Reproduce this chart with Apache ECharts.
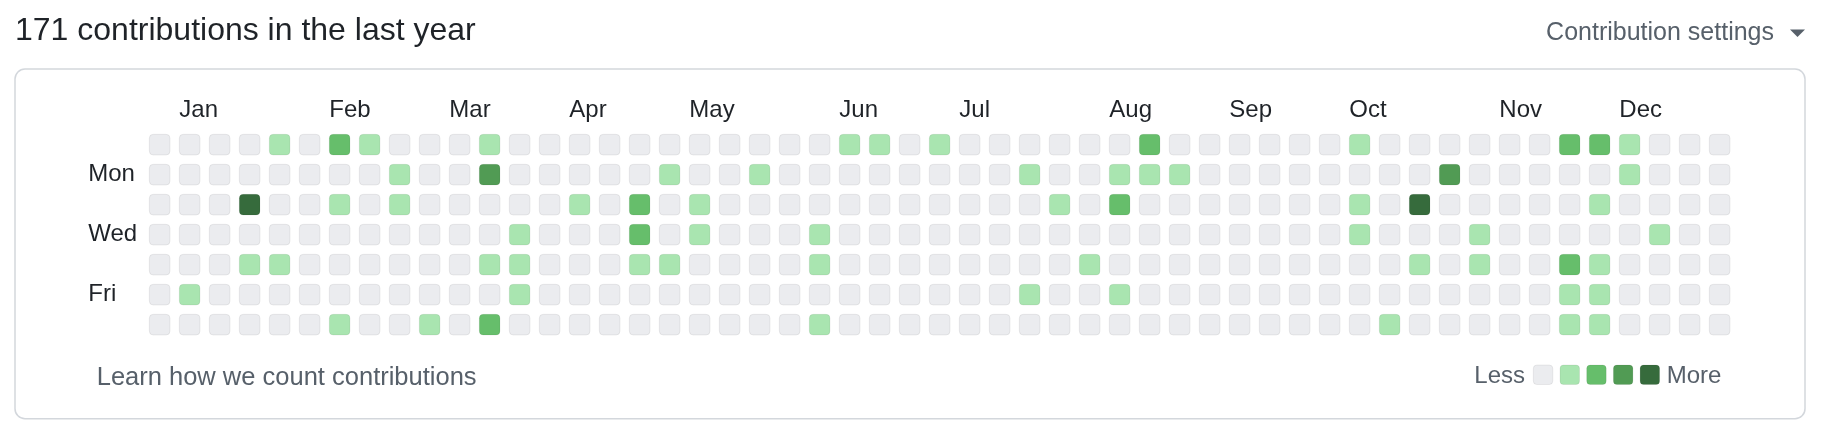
<!DOCTYPE html>
<html>
<head>
<meta charset="utf-8">
<script src="https://cdn.jsdelivr.net/npm/echarts@6/dist/echarts.min.js"></script>
<style>
  html, body { margin: 0; padding: 0; background: #ffffff; }
  #chart { width: 1834px; height: 436px; }
</style>
</head>
<body>
<div id="chart"></div>
<script>
// ---------- data ----------
const titleText = '171 contributions in the last year';
const weekdays = ['Sun', 'Mon', 'Tue', 'Wed', 'Thu', 'Fri', 'Sat'];
const dayLabels = ['', 'Mon', '', 'Wed', '', 'Fri', ''];
const monthLabels = ['Jan', 'Feb', 'Mar', 'Apr', 'May', 'Jun', 'Jul', 'Aug', 'Sep', 'Oct', 'Nov', 'Dec'];
const monthStartWeeks = [1, 6, 10, 14, 18, 23, 27, 32, 36, 40, 45, 49];
const levelColors = ['#ebecef', '#a9e5b0', '#66be6b', '#519b54', '#366b3c'];

// contribution level (0-4) per week, one array per weekday row
const sun = [0,0,0,0,1,0,2,1,0,0, 0,1,0,0,0,0,0,0,0,0, 0,0,0,1,1,0,1,0,0,0, 0,0,0,2,0,0,0,0,0,0, 1,0,0,0,0,0,0,2,2,1, 0,0,0];
const mon = [0,0,0,0,0,0,0,0,1,0, 0,3,0,0,0,0,0,1,0,0, 1,0,0,0,0,0,0,0,0,1, 0,0,1,1,1,0,0,0,0,0, 0,0,0,3,0,0,0,0,0,1, 0,0,0];
const tue = [0,0,0,4,0,0,1,0,1,0, 0,0,0,0,1,0,2,0,1,0, 0,0,0,0,0,0,0,0,0,0, 1,0,2,0,0,0,0,0,0,0, 1,0,4,0,0,0,0,0,1,0, 0,0,0];
const wed = [0,0,0,0,0,0,0,0,0,0, 0,0,1,0,0,0,2,0,1,0, 0,0,1,0,0,0,0,0,0,0, 0,0,0,0,0,0,0,0,0,0, 1,0,0,0,1,0,0,0,0,0, 1,0,0];
const thu = [0,0,0,1,1,0,0,0,0,0, 0,1,1,0,0,0,1,1,0,0, 0,0,1,0,0,0,0,0,0,0, 0,1,0,0,0,0,0,0,0,0, 0,0,1,0,1,0,0,2,1,0, 0,0,0];
const fri = [0,1,0,0,0,0,0,0,0,0, 0,0,1,0,0,0,0,0,0,0, 0,0,0,0,0,0,0,0,0,1, 0,0,1,0,0,0,0,0,0,0, 0,0,0,0,0,0,0,1,1,0, 0,0,0];
const sat = [0,0,0,0,0,0,1,0,0,1, 0,2,0,0,0,0,0,0,0,0, 0,0,1,0,0,0,0,0,0,0, 0,0,0,0,0,0,0,0,0,0, 0,1,0,0,0,0,0,1,1,0, 0,0,0];

// ---------- build ----------
const rows = [sun, mon, tue, wed, thu, fri, sat];
const weeks = sun.map((_, i) => String(i));
const cells = [];
rows.forEach((row, d) => row.forEach((lvl, w) => cells.push([w, d, lvl])));

const FONT = '"Liberation Sans", Arial, Helvetica, sans-serif';
const DARK = '#1f2328';
const MUTED = '#57606a';

const chart = echarts.init(document.getElementById('chart'), null, { renderer: 'canvas' });

const legendStartX = 1533.3, legendPitch = 26.7, legendSize = 19.5, legendY = 365;
const legendGraphics = levelColors.map((c, i) => ({
  type: 'rect',
  shape: { x: legendStartX + i * legendPitch, y: legendY, width: legendSize, height: legendSize, r: 3.5 },
  style: { fill: c, stroke: 'rgba(27,31,35,0.07)', lineWidth: 1 }
}));

chart.setOption({
  animation: false,
  backgroundColor: '#ffffff',
  grid: { left: 144.65, top: 129.65, width: 1590, height: 210, containLabel: false },
  xAxis: [
    {
      type: 'category', data: weeks, boundaryGap: true, gridIndex: 0,
      axisLine: { show: false }, axisTick: { show: false }, axisLabel: { show: false }, splitLine: { show: false }
    },
    {
      type: 'value', min: 0, max: weeks.length, interval: 1, position: 'top', gridIndex: 0,
      axisLine: { show: false }, axisTick: { show: false }, splitLine: { show: false },
      axisLabel: {
        show: true, showMinLabel: true, showMaxLabel: true,
        formatter: v => { const k = monthStartWeeks.indexOf(v); return k >= 0 ? monthLabels[k] : ''; },
        align: 'left', verticalAlign: 'middle', margin: 19.5,
        padding: [0, 0, 0, 4.7],
        fontSize: 24, color: DARK, fontFamily: FONT
      }
    }
  ],
  yAxis: {
    type: 'category', data: weekdays, inverse: true,
    axisLine: { show: false }, axisTick: { show: false }, splitLine: { show: false },
    axisLabel: {
      interval: 0,
      formatter: (v, i) => dayLabels[i],
      align: 'left', verticalAlign: 'middle', margin: 56.4,
      fontSize: 24, color: DARK, fontFamily: FONT
    }
  },
  series: [{
    type: 'custom',
    xAxisIndex: 0, yAxisIndex: 0,
    data: cells,
    renderItem: function (params, api) {
      const p = api.coord([api.value(0), api.value(1)]);
      const band = api.size([1, 1]);
      const s = band[0] * 0.69;
      return {
        type: 'rect',
        shape: { x: p[0] - s / 2, y: p[1] - s / 2, width: s, height: s, r: 4 },
        style: { fill: levelColors[api.value(2)], stroke: 'rgba(27,31,35,0.07)', lineWidth: 1 }
      };
    }
  }],
  graphic: [
    {
      type: 'rect', z: -1,
      shape: { x: 15, y: 69, width: 1790, height: 349.7, r: 10 },
      style: { fill: 'none', stroke: '#d3d7dc', lineWidth: 1.5 }
    },
    {
      type: 'text', x: 15, y: 31.5,
      style: { text: titleText, fontSize: 32, fontFamily: FONT, fill: DARK, textAlign: 'left', textVerticalAlign: 'middle' }
    },
    {
      type: 'text', x: 1774, y: 33,
      style: { text: 'Contribution settings', fontSize: 25, fontFamily: FONT, fill: MUTED, textAlign: 'right', textVerticalAlign: 'middle' }
    },
    {
      type: 'polygon',
      shape: { points: [[1790, 29.5], [1805, 29.5], [1797.5, 37]] },
      style: { fill: MUTED }
    },
    {
      type: 'text', x: 96.7, y: 378,
      style: { text: 'Learn how we count contributions', fontSize: 25.5, fontFamily: FONT, fill: MUTED, textAlign: 'left', textVerticalAlign: 'middle' }
    },
    {
      type: 'text', x: 1525, y: 376,
      style: { text: 'Less', fontSize: 24, fontFamily: FONT, fill: MUTED, textAlign: 'right', textVerticalAlign: 'middle' }
    },
    ...legendGraphics,
    {
      type: 'text', x: 1666.7, y: 376,
      style: { text: 'More', fontSize: 24, fontFamily: FONT, fill: MUTED, textAlign: 'left', textVerticalAlign: 'middle' }
    }
  ]
});
</script>
</body>
</html>
